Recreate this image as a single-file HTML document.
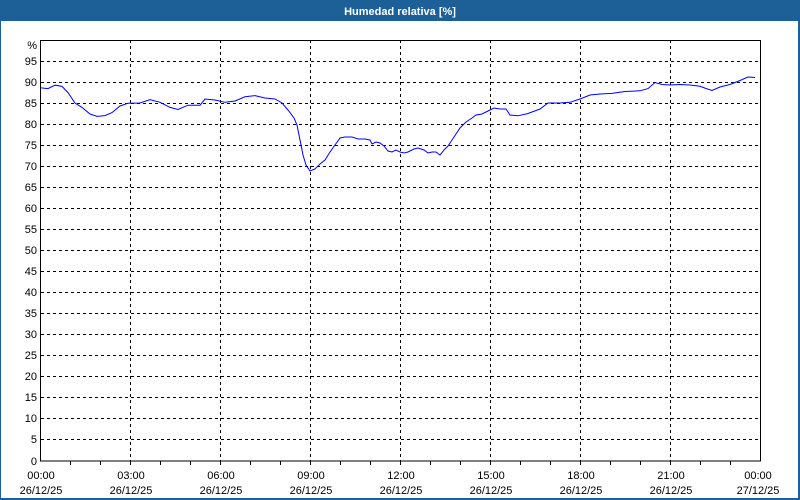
<!DOCTYPE html>
<html><head><meta charset="utf-8"><style>
html,body{margin:0;padding:0;background:#fff}
svg{display:block;font-family:"Liberation Sans",sans-serif;font-size:11px}
</style></head><body>
<svg width="800" height="500" xmlns="http://www.w3.org/2000/svg">
<rect x="0" y="0" width="800" height="500" fill="#1d5f97"/>
<rect x="1" y="21" width="797" height="477" fill="#fff"/>
<text x="400" y="15" fill="#fff" font-weight="bold" text-anchor="middle">Humedad relativa [%]</text>
<g stroke="#000" stroke-dasharray="3,3" stroke-width="1">
<line x1="41" y1="61.5" x2="761" y2="61.5"/><line x1="41" y1="82.5" x2="761" y2="82.5"/><line x1="41" y1="103.5" x2="761" y2="103.5"/><line x1="41" y1="124.5" x2="761" y2="124.5"/><line x1="41" y1="145.5" x2="761" y2="145.5"/><line x1="41" y1="166.5" x2="761" y2="166.5"/><line x1="41" y1="187.5" x2="761" y2="187.5"/><line x1="41" y1="208.5" x2="761" y2="208.5"/><line x1="41" y1="229.5" x2="761" y2="229.5"/><line x1="41" y1="250.5" x2="761" y2="250.5"/><line x1="41" y1="271.5" x2="761" y2="271.5"/><line x1="41" y1="292.5" x2="761" y2="292.5"/><line x1="41" y1="313.5" x2="761" y2="313.5"/><line x1="41" y1="334.5" x2="761" y2="334.5"/><line x1="41" y1="355.5" x2="761" y2="355.5"/><line x1="41" y1="376.5" x2="761" y2="376.5"/><line x1="41" y1="397.5" x2="761" y2="397.5"/><line x1="41" y1="418.5" x2="761" y2="418.5"/><line x1="41" y1="439.5" x2="761" y2="439.5"/>
<line x1="130.5" y1="40" x2="130.5" y2="461"/><line x1="220.5" y1="40" x2="220.5" y2="461"/><line x1="310.5" y1="40" x2="310.5" y2="461"/><line x1="400.5" y1="40" x2="400.5" y2="461"/><line x1="490.5" y1="40" x2="490.5" y2="461"/><line x1="580.5" y1="40" x2="580.5" y2="461"/><line x1="670.5" y1="40" x2="670.5" y2="461"/>
</g>
<rect x="40.5" y="40.5" width="720" height="420.5" fill="none" stroke="#000"/>
<g stroke="#000">
<line x1="70.5" y1="461" x2="70.5" y2="465"/><line x1="100.5" y1="461" x2="100.5" y2="465"/><line x1="130.5" y1="461" x2="130.5" y2="465"/><line x1="160.5" y1="461" x2="160.5" y2="465"/><line x1="190.5" y1="461" x2="190.5" y2="465"/><line x1="220.5" y1="461" x2="220.5" y2="465"/><line x1="250.5" y1="461" x2="250.5" y2="465"/><line x1="280.5" y1="461" x2="280.5" y2="465"/><line x1="310.5" y1="461" x2="310.5" y2="465"/><line x1="340.5" y1="461" x2="340.5" y2="465"/><line x1="370.5" y1="461" x2="370.5" y2="465"/><line x1="400.5" y1="461" x2="400.5" y2="465"/><line x1="430.5" y1="461" x2="430.5" y2="465"/><line x1="460.5" y1="461" x2="460.5" y2="465"/><line x1="490.5" y1="461" x2="490.5" y2="465"/><line x1="520.5" y1="461" x2="520.5" y2="465"/><line x1="550.5" y1="461" x2="550.5" y2="465"/><line x1="580.5" y1="461" x2="580.5" y2="465"/><line x1="610.5" y1="461" x2="610.5" y2="465"/><line x1="640.5" y1="461" x2="640.5" y2="465"/><line x1="670.5" y1="461" x2="670.5" y2="465"/><line x1="700.5" y1="461" x2="700.5" y2="465"/><line x1="730.5" y1="461" x2="730.5" y2="465"/>
</g>
<g text-anchor="end" fill="#000">
<text x="37" y="49">%</text><text x="37" y="65">95</text><text x="37" y="86">90</text><text x="37" y="107">85</text><text x="37" y="128">80</text><text x="37" y="149">75</text><text x="37" y="170">70</text><text x="37" y="191">65</text><text x="37" y="212">60</text><text x="37" y="233">55</text><text x="37" y="254">50</text><text x="37" y="275">45</text><text x="37" y="296">40</text><text x="37" y="317">35</text><text x="37" y="338">30</text><text x="37" y="359">25</text><text x="37" y="380">20</text><text x="37" y="401">15</text><text x="37" y="422">10</text><text x="37" y="443">5</text><text x="37" y="465">0</text>
</g>
<g text-anchor="middle" fill="#000">
<text x="41" y="479">00:00</text><text x="41" y="494">26/12/25</text>
<text x="131" y="479">03:00</text><text x="131" y="494">26/12/25</text>
<text x="221" y="479">06:00</text><text x="221" y="494">26/12/25</text>
<text x="311" y="479">09:00</text><text x="311" y="494">26/12/25</text>
<text x="401" y="479">12:00</text><text x="401" y="494">26/12/25</text>
<text x="491" y="479">15:00</text><text x="491" y="494">26/12/25</text>
<text x="581" y="479">18:00</text><text x="581" y="494">26/12/25</text>
<text x="671" y="479">21:00</text><text x="671" y="494">26/12/25</text>
<text x="758" y="479">00:00</text><text x="758" y="494">27/12/25</text>
</g>
<polyline fill="none" stroke="#0000ff" stroke-width="1" points="41,87.9 48,88.6 55,85.2 62,86.4 68,92.6 75,103 82,107.4 90,114 97,116.4 105,115.6 112,112.6 120,106 128,103.2 140,103 150,99.6 160,102.3 170,107.4 178,109.5 188,105.2 200,105.2 205,99 215,100 225,102.3 235,101 245,96.8 255,95.6 265,98 275,99 282,103 288,110 294,118 297,125 300,140 303,155 306,165 310,171 315,169 320,164 325,160 330,152 335,145 340,138 345,137 352,137 358,139 365,139 370,140 372,144 376,142 380,143 384,146 388,151 392,152 396,150 400,152 404,153 408,152 414,149 418,148 424,150 428,153 432,152 436,152 440,155 444,150 448,146 452,140 456,134 460,128 466,122 472,118 476,115 482,114 488,111 494,108 500,109 506,109 510,115 518,115.8 528,113.5 540,109 548,103 560,103 570,102.3 580,99 590,95 600,94 612,93.4 625,91.5 640,90.8 648,88.6 655,82.5 662,84.5 670,85 680,84.5 690,85 700,86.3 706,88.5 712,90.5 720,87 730,84.5 740,80.5 748,77 755,77.5"/>
</svg>
</body></html>
